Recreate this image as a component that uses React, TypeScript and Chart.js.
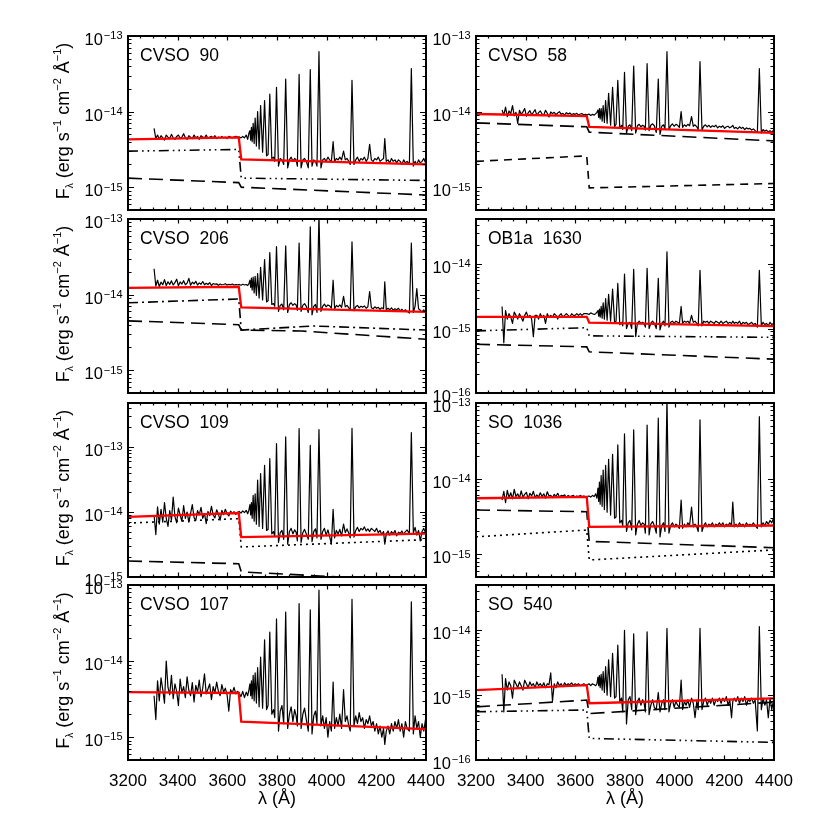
import { useEffect, useRef } from "react";
import { Chart, registerables } from "chart.js";

Chart.register(...registerables);

const FONT = '"Liberation Sans", Arial, Helvetica, sans-serif';
const FLUX_UNIT = 1e-15; // spectra below are in units of 1e-15 erg s^-1 cm^-2 A^-1

// ---- shared wavelength grid of the observed spectra (Angstrom) ----
const wavelength = [
  3305, 3312, 3319, 3326, 3333, 3340, 3347, 3354, 3361, 3368,
  3375, 3382, 3389, 3396, 3403, 3410, 3417, 3424, 3431, 3438,
  3445, 3452, 3459, 3466, 3473, 3480, 3487, 3494, 3501, 3508,
  3515, 3522, 3529, 3536, 3543, 3550, 3557, 3564, 3571, 3578,
  3585, 3592, 3599, 3606, 3613, 3620, 3627, 3634, 3641,
  3648, 3655, 3662, 3669, 3676, 3682, 3687,
  3691, 3694, 3697, 3700, 3704, 3708, 3712, 3717, 3722, 3728,
  3734, 3742, 3750, 3758, 3764, 3771, 3779, 3786, 3791, 3798,
  3806, 3813, 3820, 3827, 3835, 3843, 3850, 3857, 3864, 3871, 3877, 3882, 3889, 3897,
  3904, 3911, 3918, 3926, 3934, 3941, 3948, 3955, 3961, 3969, 3977,
  3984, 3991, 3998, 4005, 4012, 4019, 4026, 4032,
  4039, 4046, 4053, 4060, 4068, 4075, 4082, 4089, 4095, 4102, 4110,
  4117, 4124, 4131, 4138, 4145, 4152, 4159, 4166, 4173, 4180,
  4187, 4194, 4201, 4208, 4215, 4222, 4229, 4234, 4240,
  4247, 4254, 4261, 4268, 4275, 4282, 4289, 4296, 4303, 4310,
  4317, 4324, 4333, 4341, 4349, 4356, 4363, 4370, 4377, 4384, 4391, 4398, 4405,
];

const cvso90Spectrum = [
  6.0, 4.4, 4.9, 4.3, 4.8, 4.5, 4.2, 4.9, 4.6, 4.4,
  5.0, 4.5, 4.3, 4.7, 4.9, 4.4, 4.6, 5.1, 4.5, 4.3,
  4.8, 4.6, 4.4, 4.9, 4.5, 4.7, 4.3, 4.8, 4.6, 4.5,
  4.9, 4.4, 4.6, 4.7, 4.5, 4.8, 4.4, 4.6, 4.5, 4.7,
  4.5, 4.6, 4.4, 4.7, 4.6, 4.5, 4.6, 4.7, 4.6,
  4.6, 4.5, 4.7, 4.5, 4.9, 4.3, 5.2,
  5.6, 4.2, 6.2, 4.0, 7.0, 3.8, 8.2, 3.5, 10, 3.2,
  12, 2.9, 14, 2.6, 2.7, 17, 2.4, 2.5, 2.2, 21,
  1.9, 2.4, 2.3, 2.0, 27, 1.8, 2.3, 2.5, 2.2, 2.4, 2.3, 1.9, 31, 1.8,
  2.3, 2.4, 2.2, 1.8, 36, 1.9, 2.3, 2.2, 1.9, 62, 1.8,
  2.3, 2.4, 2.2, 2.5, 2.3, 2.2, 4.0, 2.2,
  2.4, 2.3, 2.5, 2.3, 3.0, 2.3, 2.4, 2.2, 2.0, 26, 2.0,
  2.3, 2.5, 2.2, 2.4, 2.3, 2.5, 2.2, 2.4, 3.7, 2.3,
  2.2, 2.4, 2.3, 2.5, 2.2, 2.3, 2.4, 4.4, 2.2,
  2.3, 2.1, 2.4, 2.2, 2.3, 2.1, 2.3, 2.2, 2.0, 2.3,
  2.1, 2.2, 2.0, 37, 1.9, 2.2, 2.0, 2.3, 2.1, 2.2, 2.4, 2.1, 2.3,
];

const cvso58Spectrum = [
  10.5, 9.0, 11.5, 8.6, 10.2, 9.4, 12.0, 8.8, 9.8, 7.0,
  10.4, 9.2, 9.9, 11.0, 8.7, 9.6, 10.3, 9.1, 9.8, 10.6,
  8.9, 9.7, 10.2, 9.3, 9.0, 10.4, 9.5, 8.5, 9.9, 9.4,
  9.8, 9.1, 9.6, 10.0, 9.2, 9.5, 9.0, 9.7, 9.3, 9.6,
  9.1, 9.4, 9.2, 9.5, 9.0, 9.3, 9.4, 9.1, 9.2,
  9.0, 9.3, 8.9, 9.2, 9.0, 9.4, 9.8,
  10.5, 8.4, 11, 8.0, 11, 7.5, 12, 7.2, 14, 7.0,
  17.5, 6.6, 21, 6.3, 6.8, 26, 6.0, 6.6, 5.8, 33,
  5.2, 6.4, 6.7, 5.6, 40, 5.2, 6.5, 6.8, 6.3, 6.6, 6.4, 5.7, 43, 5.6,
  6.6, 6.9, 6.5, 5.3, 27, 5.0, 6.4, 6.7, 5.9, 62, 5.8,
  6.5, 6.9, 6.4, 6.8, 6.6, 6.2, 10, 6.2,
  6.7, 6.4, 6.8, 6.5, 8.6, 6.4, 6.7, 6.3, 5.8, 46, 5.7,
  6.4, 6.7, 6.3, 6.6, 6.2, 6.5, 6.3, 6.6, 6.1, 6.4,
  6.2, 6.5, 6.0, 6.3, 6.4, 6.1, 6.3, 6.6, 6.0,
  6.2, 5.9, 6.3, 6.0, 6.2, 5.8, 6.1, 5.9, 6.0, 5.7,
  5.9, 5.6, 5.3, 37, 5.2, 5.8, 5.5, 5.7, 5.4, 5.6, 5.3, 5.7, 5.4,
];

const cvso206Spectrum = [
  22, 13.0, 15.5, 12.8, 14.6, 13.5, 15.8, 13.2, 14.8, 13.6,
  15.2, 13.4, 14.4, 16.0, 13.1, 14.7, 13.8, 15.3, 13.5, 14.2,
  16.4, 13.3, 14.6, 13.9, 15.0, 13.4, 14.3, 13.7, 14.9, 13.5,
  14.1, 13.6, 14.4, 13.2, 14.0, 13.7, 13.9, 13.3, 13.8, 13.5,
  13.6, 13.9, 13.4, 13.7, 13.5, 13.8, 13.4, 13.6, 13.5,
  13.6, 13.3, 13.7, 13.4, 13.6, 13.2, 14.0,
  15.5, 12.5, 16.5, 11.5, 17, 10.5, 17.5, 9.8, 19, 9.0,
  23, 8.5, 29, 8.0, 8.3, 36, 7.4, 7.6, 7.0, 43,
  6.0, 7.2, 7.5, 6.3, 44, 5.8, 7.4, 7.8, 7.2, 7.6, 7.3, 6.2, 48, 6.0,
  7.2, 7.6, 7.0, 5.8, 79, 5.4, 7.0, 7.4, 5.8, 115, 6.0,
  7.0, 7.5, 6.9, 7.3, 7.1, 6.6, 15.5, 6.5,
  7.2, 6.9, 7.3, 6.8, 9.5, 6.9, 7.2, 6.7, 6.2, 50, 6.1,
  6.9, 7.2, 6.7, 7.0, 6.8, 7.1, 6.6, 6.9, 11, 6.7,
  6.5, 6.9, 6.6, 6.8, 6.4, 6.7, 6.5, 14.8, 6.3,
  6.6, 6.3, 6.7, 6.2, 6.5, 6.3, 6.6, 6.1, 6.4, 6.0,
  6.3, 6.0, 5.7, 48, 5.8, 7.0, 12, 6.5, 6.2, 5.9, 6.3, 5.8, 6.1,
];

const ob1a1630Spectrum = [
  2.2, 0.6, 1.9, 1.4, 1.7, 1.5, 1.2, 1.8, 1.6, 1.4,
  1.7, 1.5, 1.3, 1.6, 1.8, 1.5, 1.6, 1.4, 0.75, 1.6,
  1.6, 1.4, 1.7, 1.5, 1.6, 1.2, 1.7, 1.5, 1.6, 1.5,
  1.7, 1.6, 1.4, 1.6, 1.7, 1.5, 1.6, 1.7, 1.6, 1.5,
  1.7, 1.6, 1.6, 1.7, 1.6, 1.7, 1.6, 1.7, 1.7,
  1.7, 1.65, 1.75, 1.7, 1.65, 1.7, 1.8,
  1.9, 1.55, 2.0, 1.5, 2.2, 1.45, 2.5, 1.4, 2.9, 1.35,
  3.4, 1.3, 4.1, 1.25, 1.3, 5.0, 1.15, 1.25, 1.1, 7.0,
  1.0, 1.2, 1.25, 1.0, 8.3, 0.75, 1.2, 1.3, 1.2, 1.25, 1.2, 1.05, 8.6, 1.0,
  1.2, 1.3, 1.2, 1.0, 6.0, 0.95, 1.2, 1.3, 1.1, 15.5, 1.05,
  1.25, 1.3, 1.2, 1.3, 1.25, 1.2, 2.2, 1.2,
  1.3, 1.25, 1.3, 1.2, 1.6, 1.25, 1.3, 1.2, 1.1, 8.0, 1.1,
  1.3, 1.25, 1.3, 1.2, 1.3, 1.25, 1.2, 1.3, 1.25, 1.2,
  1.3, 1.2, 1.25, 1.3, 1.2, 1.25, 1.2, 1.3, 1.2,
  1.25, 1.2, 1.3, 1.15, 1.25, 1.2, 1.25, 1.15, 1.2, 1.25,
  1.15, 1.2, 1.05, 8.0, 1.1, 1.25, 1.15, 1.2, 1.1, 1.25, 1.15, 1.2, 1.1,
];

const cvso109Spectrum = [
  9.0, 4.5, 12, 6.5, 11, 7.0, 14, 8.0, 6.0, 10.5,
  7.5, 17, 8.5, 6.8, 11.5, 9.0, 7.2, 12.5, 8.0, 10.0,
  7.0, 9.5, 13, 8.2, 7.4, 10.5, 9.0, 11.8, 8.0, 9.5,
  6.6, 10.2, 8.8, 12.2, 9.0, 8.1, 10.8, 9.3, 7.5, 10.6,
  9.1, 11.0, 9.4, 8.7, 10.3, 9.6, 10.1, 9.2, 9.9,
  10.2, 9.6, 10.4, 9.8, 10.6, 9.4, 10.8,
  13, 9.0, 14, 8.0, 18, 7.2, 19, 6.5, 31, 6.0,
  39, 5.6, 52, 5.2, 5.4, 66, 4.6, 5.0, 4.2, 113,
  3.4, 4.8, 5.2, 3.8, 143, 3.2, 5.0, 5.6, 4.6, 5.3, 4.9, 3.6, 192, 3.4,
  4.8, 5.4, 4.6, 3.8, 106, 3.5, 5.0, 5.5, 4.0, 185, 3.8,
  5.0, 5.6, 4.4, 5.3, 4.2, 3.2, 11, 4.0,
  5.2, 4.6, 5.4, 4.3, 6.5, 4.8, 5.5, 4.7, 4.0, 194, 4.1,
  5.2, 5.8, 5.0, 5.6, 5.3, 5.9, 5.1, 5.5, 5.0, 5.6,
  5.3, 5.0, 5.6, 4.8, 5.2, 4.5, 5.0, 3.2, 4.6,
  5.1, 4.4, 5.0, 4.6, 5.2, 4.3, 4.9, 4.7, 5.1, 4.5,
  5.0, 5.3, 4.6, 167, 4.8, 5.8, 4.4, 5.2, 3.6, 5.0, 5.6, 4.8, 5.2,
];

const so1036Spectrum = [
  5.2, 6.8, 4.8, 7.0, 5.6, 6.5, 5.4, 7.2, 5.8, 6.3,
  5.5, 6.9, 5.7, 6.2, 6.6, 5.4, 6.4, 5.9, 6.8, 5.6,
  6.1, 5.7, 6.5, 5.8, 6.3, 5.5, 6.7, 5.9, 6.0, 5.6,
  6.2, 5.8, 6.4, 5.7, 6.0, 5.9, 6.1, 5.6, 6.0, 5.8,
  5.9, 6.0, 5.7, 5.9, 5.8, 6.0, 5.8, 5.9, 5.8,
  5.8, 5.9, 5.7, 6.0, 5.8, 6.3, 5.5,
  7.5, 5.0, 9.0, 4.6, 11, 4.3, 13, 3.9, 15, 3.6,
  18, 3.3, 21, 3.0, 3.1, 28, 2.6, 2.8, 2.4, 39,
  2.0, 2.6, 2.8, 2.1, 44, 1.8, 2.5, 2.8, 2.4, 2.6, 2.5, 1.9, 51, 1.8,
  2.5, 2.7, 2.4, 1.9, 63, 1.7, 2.4, 2.6, 2.0, 115, 1.9,
  2.4, 2.6, 2.3, 2.5, 2.4, 2.2, 5.2, 2.2,
  2.5, 2.3, 2.6, 2.4, 4.2, 2.3, 2.5, 2.3, 2.0, 60, 2.0,
  2.4, 2.6, 2.3, 2.5, 2.4, 2.6, 2.3, 2.5, 2.4, 2.6,
  2.4, 2.6, 2.3, 2.5, 2.4, 2.6, 2.4, 4.9, 2.3,
  2.5, 2.3, 2.6, 2.4, 2.5, 2.3, 2.6, 2.4, 2.5, 2.4,
  2.6, 2.4, 2.2, 66, 2.3, 2.6, 2.4, 2.7, 2.5, 2.8, 2.6, 3.0, 2.8,
];

const cvso107Spectrum = [
  3.5, 1.7, 5.5, 3.0, 6.0, 4.2, 2.8, 10, 4.5, 3.6,
  6.5, 3.2, 5.0, 4.0, 2.6, 5.8, 3.8, 4.6, 3.3, 6.2,
  4.1, 3.5, 5.2, 2.9, 4.8, 3.9, 5.6, 3.4, 4.4, 6.8,
  3.7, 4.3, 5.0, 3.1, 4.6, 3.8, 5.3, 4.0, 3.5, 4.9,
  3.9, 4.4, 3.6, 2.2, 4.2, 3.8, 4.5, 3.7, 4.0,
  3.8, 3.4, 4.0, 3.3, 3.9, 3.5, 4.2,
  5.0, 3.5, 5.5, 3.2, 6.5, 3.0, 7.0, 2.8, 8.2, 2.5,
  11.3, 2.4, 19, 2.3, 2.6, 24, 2.0, 2.3, 1.8, 36,
  1.2, 2.2, 2.6, 1.5, 44, 1.3, 2.0, 2.5, 1.6, 2.3, 1.9, 1.4, 57, 1.3,
  2.0, 2.4, 1.7, 1.2, 47, 1.1, 1.9, 2.2, 1.5, 86, 1.4,
  1.9, 1.3, 1.8, 1.0, 1.6, 1.2, 5.3, 1.3,
  1.8, 1.4, 2.0, 1.3, 4.2, 1.6, 1.9, 1.4, 1.2, 65, 1.4,
  1.9, 1.5, 2.1, 1.6, 1.8, 1.3, 1.7, 1.5, 1.9, 1.4,
  1.6, 1.2, 1.5, 1.1, 1.4, 1.0, 1.3, 0.8, 1.2,
  1.4, 1.1, 1.5, 1.2, 1.6, 1.3, 1.7, 1.2, 1.5, 1.0,
  1.6, 1.3, 1.2, 60, 1.1, 1.9, 1.3, 1.6, 1.0, 1.5, 1.2, 1.7, 1.4,
];

const so540Spectrum = [
  2.1, 0.55, 1.8, 1.2, 1.6, 1.4, 0.9, 1.7, 1.5, 1.3,
  1.6, 1.4, 1.2, 1.7, 1.5, 1.3, 1.6, 1.4, 1.5, 1.3,
  1.6, 1.4, 1.5, 1.35, 1.55, 1.3, 1.5, 1.45, 2.2, 0.8,
  1.5, 1.3, 1.6, 1.4, 1.5, 1.35, 1.55, 1.4, 1.5, 1.45,
  1.55, 1.4, 1.5, 1.45, 1.5, 1.4, 1.45, 1.5, 1.45,
  1.45, 1.5, 1.4, 1.5, 1.45, 1.4, 1.5,
  1.9, 1.4, 2.0, 1.3, 2.1, 1.2, 2.3, 1.1, 2.75, 1.0,
  3.5, 0.95, 4.4, 0.9, 0.95, 5.9, 0.8, 0.9, 0.55, 10,
  0.36, 0.85, 0.95, 0.6, 8.8, 0.5, 0.8, 0.9, 0.7, 0.85, 0.75, 0.55, 9.5, 0.5,
  0.7, 0.85, 0.65, 0.6, 1.1, 0.55, 0.75, 0.85, 0.6, 10.7, 0.55,
  0.75, 0.85, 0.65, 0.8, 0.7, 0.65, 1.7, 0.6,
  0.8, 0.7, 0.85, 0.65, 0.9, 0.75, 0.45, 0.8, 0.6, 10.7, 0.6,
  0.8, 0.9, 0.7, 0.85, 0.75, 0.9, 0.7, 0.85, 0.8, 0.9,
  0.75, 0.9, 0.8, 0.95, 0.7, 0.85, 0.45, 0.8, 0.9,
  0.8, 0.95, 0.75, 0.9, 0.8, 0.95, 0.7, 0.85, 0.8, 0.9,
  0.75, 0.85, 0.28, 11.4, 0.6, 0.9, 0.7, 0.85, 0.45, 0.9, 0.6, 0.85, 0.8,
];

// ---- model components (units of 1e-15), Balmer jump at 3646 A ----
const jumpWave = [3200, 3646, 3656, 4400];
const cvso206DashDotWave = [3200, 3646, 3656, 3946, 4400];
const cvso206LongDashWave = [3200, 3646, 3656, 3900, 4400];

const cvso90Total = [4.3, 4.57, 2.34, 2.0];
const cvso90DashDotDot = [3.0, 3.16, 1.32, 1.23];
const cvso90LongDash = [1.32, 1.15, 1.0, 0.79];
const cvso58Total = [9.3, 8.7, 6.3, 5.25];
const cvso58LongDash = [7.1, 6.3, 5.35, 4.1];
const cvso58Dashed = [2.2, 2.6, 0.98, 1.12];
const cvso206Total = [12.3, 12.7, 6.8, 5.9];
const cvso206DashDot = [7.8, 8.75, 3.4, 3.85, 3.4];
const cvso206LongDash = [4.5, 4.0, 3.4, 3.3, 2.57];
const ob1a1630Total = [1.52, 1.52, 1.23, 1.09];
const ob1a1630DashDotDot = [0.92, 1.03, 0.77, 0.73];
const ob1a1630LongDash = [0.57, 0.52, 0.435, 0.335];
const cvso109Total = [8.4, 9.65, 4.1, 4.65];
const cvso109Dotted = [6.75, 7.9, 2.9, 3.75];
const cvso109LongDash = [1.76, 1.6, 1.2, 0.85];
const so1036Total = [5.5, 5.75, 2.3, 2.4];
const so1036LongDash = [3.85, 3.65, 1.48, 1.22];
const so1036Dotted = [1.7, 2.09, 0.84, 1.14];
const cvso107Total = [3.9, 3.8, 1.6, 1.27];
const so540Total = [1.2, 1.43, 0.75, 0.89];
const so540LongDash = [0.66, 0.84, 0.52, 0.78];
const so540DashDotDot = [0.555, 0.59, 0.215, 0.187];

const panelNames = ["CVSO 90", "CVSO 58", "CVSO 206", "OB1a 1630", "CVSO 109", "SO 1036", "CVSO 107", "SO 540"];
const yMinValues = [5e-16, 5e-16, 5e-16, 1e-16, 1e-15, 5e-16, 5e-16, 1e-16];
const yMaxValues = [1e-13, 1e-13, 1e-13, 5e-14, 4.75e-13, 1e-13, 1e-13, 5e-14];
const xTickValues = [3200, 3400, 3600, 3800, 4000, 4200, 4400];
const xMinorStep = 50;

type Style = "total" | "longdash" | "dashed" | "dashdot" | "dashdotdot" | "dotted";
type Comp = { wave: number[]; flux: number[]; style: Style };

const panelSpectra = [cvso90Spectrum, cvso58Spectrum, cvso206Spectrum, ob1a1630Spectrum, cvso109Spectrum, so1036Spectrum, cvso107Spectrum, so540Spectrum];
const panelComps: Comp[][] = [
  [
    { wave: jumpWave, flux: cvso90Total, style: "total" },
    { wave: jumpWave, flux: cvso90DashDotDot, style: "dashdotdot" },
    { wave: jumpWave, flux: cvso90LongDash, style: "longdash" },
  ],
  [
    { wave: jumpWave, flux: cvso58Total, style: "total" },
    { wave: jumpWave, flux: cvso58LongDash, style: "longdash" },
    { wave: jumpWave, flux: cvso58Dashed, style: "dashed" },
  ],
  [
    { wave: jumpWave, flux: cvso206Total, style: "total" },
    { wave: cvso206DashDotWave, flux: cvso206DashDot, style: "dashdot" },
    { wave: cvso206LongDashWave, flux: cvso206LongDash, style: "longdash" },
  ],
  [
    { wave: jumpWave, flux: ob1a1630Total, style: "total" },
    { wave: jumpWave, flux: ob1a1630DashDotDot, style: "dashdotdot" },
    { wave: jumpWave, flux: ob1a1630LongDash, style: "longdash" },
  ],
  [
    { wave: jumpWave, flux: cvso109Total, style: "total" },
    { wave: jumpWave, flux: cvso109Dotted, style: "dotted" },
    { wave: jumpWave, flux: cvso109LongDash, style: "longdash" },
  ],
  [
    { wave: jumpWave, flux: so1036Total, style: "total" },
    { wave: jumpWave, flux: so1036LongDash, style: "longdash" },
    { wave: jumpWave, flux: so1036Dotted, style: "dotted" },
  ],
  [{ wave: jumpWave, flux: cvso107Total, style: "total" }],
  [
    { wave: jumpWave, flux: so540Total, style: "total" },
    { wave: jumpWave, flux: so540LongDash, style: "longdash" },
    { wave: jumpWave, flux: so540DashDotDot, style: "dashdotdot" },
  ],
];

const DASH: Record<Style, number[]> = {
  total: [],
  longdash: [14, 7],
  dashed: [8, 6],
  dashdot: [10, 4, 2, 4],
  dashdotdot: [10, 4, 1.6, 4, 1.6, 4, 1.6, 4],
  dotted: [2, 4],
};

// ---- layout ----
const COL_CANVAS_LEFT = [0, 426];
const COL_CANVAS_W = [450, 404];
const COL_PLOT_LEFT = [128, 476];
const COL_PLOT_RIGHT = [426, 774];
const ROW_TOP = [36, 219, 403, 585];
const ROW_BOTTOM = [210, 393, 577, 760];
const PAD_TOP = 16;

function geom(i: number) {
  const col = i % 2;
  const row = Math.floor(i / 2);
  const bottomMargin = row === 3 ? 62 : 12;
  const left = COL_CANVAS_LEFT[col];
  const w = COL_CANVAS_W[col];
  const top = ROW_TOP[row] - PAD_TOP;
  const h = ROW_BOTTOM[row] - ROW_TOP[row] + PAD_TOP + bottomMargin;
  return {
    col,
    row,
    left,
    top,
    w,
    h,
    padding: {
      left: COL_PLOT_LEFT[col] - left,
      right: left + w - COL_PLOT_RIGHT[col],
      top: PAD_TOP,
      bottom: bottomMargin,
    },
  };
}

function drawRuns(ctx: CanvasRenderingContext2D, runs: { t: string; size: number; dy: number }[], cx: number, cy: number) {
  let total = 0;
  const widths = runs.map((r) => {
    ctx.font = `${r.size}px ${FONT}`;
    const w = ctx.measureText(r.t).width;
    total += w;
    return w;
  });
  let x = cx - total / 2;
  runs.forEach((r, k) => {
    ctx.font = `${r.size}px ${FONT}`;
    ctx.fillText(r.t, x, cy + r.dy);
    x += widths[k];
  });
}

function makeAxesPlugin(i: number) {
  const g = geom(i);
  const yMin = yMinValues[i];
  const yMax = yMaxValues[i];
  return {
    id: "idlAxes" + i,
    afterDatasetsDraw(chart: any) {
      const ctx: CanvasRenderingContext2D = chart.ctx;
      const a = chart.chartArea;
      const xs = chart.scales.x;
      const ys = chart.scales.y;
      ctx.save();
      ctx.strokeStyle = "#000";
      ctx.fillStyle = "#000";
      ctx.lineWidth = 1.2;
      ctx.beginPath();
      for (let v = xTickValues[0] + xMinorStep; v < xTickValues[xTickValues.length - 1]; v += xMinorStep) {
        const px = Math.round(xs.getPixelForValue(v)) + 0.5;
        const len = xTickValues.includes(v) ? 4.5 : 2.5;
        ctx.moveTo(px, a.bottom);
        ctx.lineTo(px, a.bottom - len);
        ctx.moveTo(px, a.top);
        ctx.lineTo(px, a.top + len);
      }
      for (let e = -17; e <= -12; e++) {
        for (let k = 1; k <= 9; k++) {
          const v = k * Math.pow(10, e);
          if (v <= yMin * 1.0001 || v >= yMax * 0.9999) continue;
          const py = Math.round(ys.getPixelForValue(v)) + 0.5;
          const len = k === 1 ? 6 : 3.5;
          ctx.moveTo(a.left, py);
          ctx.lineTo(a.left + len, py);
          ctx.moveTo(a.right, py);
          ctx.lineTo(a.right - len, py);
        }
      }
      ctx.stroke();
      ctx.lineWidth = 2;
      ctx.strokeRect(a.left, a.top, a.right - a.left, a.bottom - a.top);

      // y tick labels 10^n
      ctx.textAlign = "left";
      ctx.textBaseline = "alphabetic";
      for (let e = -17; e <= -12; e++) {
        const v = Math.pow(10, e);
        if (v < yMin * 0.999 || v > yMax * 1.001) continue;
        const py = ys.getPixelForValue(v);
        const exp = "\u2212" + String(-e);
        ctx.font = `11px ${FONT}`;
        const ew = ctx.measureText(exp).width;
        ctx.font = `16.5px ${FONT}`;
        const bw = ctx.measureText("10").width;
        const right = a.left - 5.5;
        ctx.fillText("10", right - ew - bw - 1, py + 9);
        ctx.font = `11px ${FONT}`;
        ctx.fillText(exp, right - ew, py + 3.3);
      }

      // panel name
      ctx.font = `17.5px ${FONT}`;
      const parts = panelNames[i].split(" ");
      let nx = a.left + 12;
      parts.forEach((pt, k) => {
        ctx.fillText(pt, nx, a.top + 25);
        nx += ctx.measureText(pt).width + (k === 0 ? 10 : 0);
      });

      // x tick labels + axis title on bottom row
      if (g.row === 3) {
        ctx.textAlign = "center";
        ctx.font = `17px ${FONT}`;
        xTickValues.forEach((v) => {
          ctx.fillText(String(v), xs.getPixelForValue(v), a.bottom + 26);
        });
        ctx.font = `18px ${FONT}`;
        ctx.fillText("\u03bb (\u00c5)", (a.left + a.right) / 2, a.bottom + 44);
      }

      // y axis title on left column
      if (g.col === 0) {
        ctx.save();
        ctx.translate(69, (a.top + a.bottom) / 2 - 2);
        ctx.rotate(-Math.PI / 2);
        ctx.textAlign = "left";
        drawRuns(
          ctx,
          [
            { t: "F", size: 18, dy: 0 },
            { t: "\u03bb", size: 10, dy: 4 },
            { t: " (erg s", size: 18, dy: 0 },
            { t: "\u22121", size: 11, dy: -8 },
            { t: " cm", size: 18, dy: 0 },
            { t: "\u22122", size: 11, dy: -8 },
            { t: " \u00c5", size: 18, dy: 0 },
            { t: "\u22121", size: 11, dy: -8 },
            { t: ")", size: 18, dy: 0 },
          ],
          0,
          0
        );
        ctx.restore();
      }
      ctx.restore();
    },
  };
}

function makeChart(canvas: HTMLCanvasElement, i: number) {
  const g = geom(i);
  const spec = panelSpectra[i];
  const n = Math.min(spec.length, wavelength.length);
  const specPoints = [];
  for (let k = 0; k < n; k++) specPoints.push({ x: wavelength[k], y: spec[k] * FLUX_UNIT });

  const datasets: any[] = [];
  const comps = panelComps[i];
  // first dataset is drawn on top: red total model first, then components, spectrum last
  comps
    .filter((c) => c.style === "total")
    .forEach((c) =>
      datasets.push({
        data: c.wave.map((w, k) => ({ x: w, y: c.flux[k] * FLUX_UNIT })),
        borderColor: "#ff0000",
        borderWidth: 2.3,
        pointRadius: 0,
        tension: 0,
      })
    );
  comps
    .filter((c) => c.style !== "total")
    .forEach((c) =>
      datasets.push({
        data: c.wave.map((w, k) => ({ x: w, y: c.flux[k] * FLUX_UNIT })),
        borderColor: "#000",
        borderWidth: 1.6,
        borderDash: DASH[c.style],
        pointRadius: 0,
        tension: 0,
      })
    );
  datasets.push({
    data: specPoints,
    borderColor: "#000",
    borderWidth: 1.2,
    pointRadius: 0,
    tension: 0,
    borderJoinStyle: "round",
  });

  return new Chart(canvas, {
    type: "line",
    data: { datasets },
    options: {
      animation: false,
      responsive: false,
      devicePixelRatio: 1,
      events: [],
      layout: { padding: g.padding },
      scales: {
        x: { type: "linear", min: 3200, max: 4400, display: false },
        y: { type: "logarithmic", min: yMinValues[i], max: yMaxValues[i], display: false },
      },
      plugins: { legend: { display: false }, tooltip: { enabled: false } },
    },
    plugins: [makeAxesPlugin(i)],
  } as any);
}

export default function App() {
  const refs = useRef<(HTMLCanvasElement | null)[]>([]);
  useEffect(() => {
    const charts = panelNames.map((_, i) => makeChart(refs.current[i] as HTMLCanvasElement, i));
    return () => charts.forEach((c) => c.destroy());
  }, []);
  return (
    <div style={{ position: "absolute", left: 0, top: 0, width: 830, height: 830, background: "#fff" }}>
      {panelNames.map((_, i) => {
        const g = geom(i);
        return (
          <canvas
            key={i}
            ref={(el) => {
              refs.current[i] = el;
            }}
            width={g.w}
            height={g.h}
            style={{ position: "absolute", left: g.left, top: g.top, width: g.w, height: g.h }}
          />
        );
      })}
    </div>
  );
}
